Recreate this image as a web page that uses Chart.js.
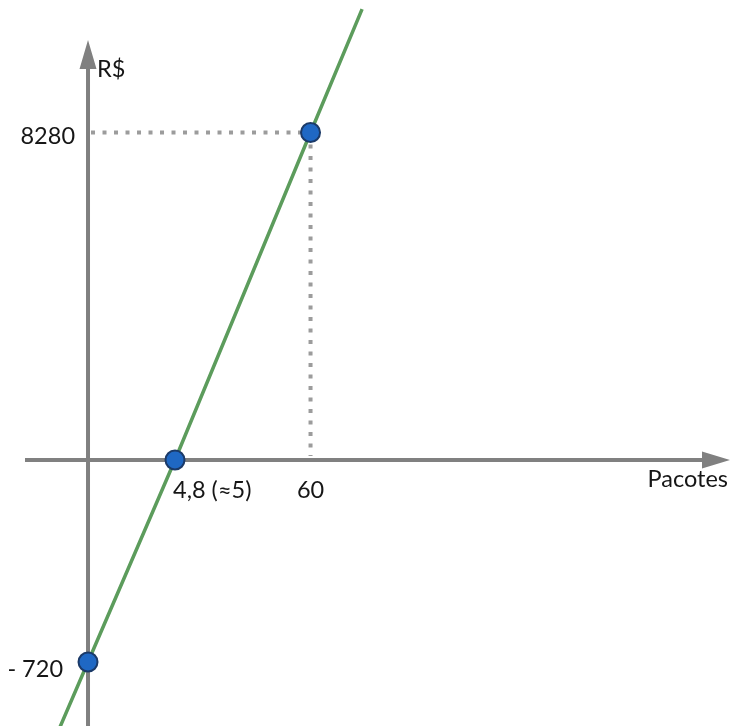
<!DOCTYPE html>
<html lang="pt-BR">
<head>
<meta charset="utf-8">
<title>Lucro x Pacotes</title>
<script src="https://cdn.jsdelivr.net/npm/chart.js@4/dist/chart.umd.min.js"></script>
<style>
  html, body { margin: 0; padding: 0; background: #fff; }
  #wrap { position: relative; width: 731px; height: 726px; }
</style>
</head>
<body>
<div id="wrap"><canvas id="c" width="731" height="726"></canvas></div>
<script>
// Marked points: packages (x) and profit in R$ (y)
const markX = [0, 4.8, 60];
const markY = [-720, 0, 8280];

// Profit line, running past the marked points out to the edges
const lineX = [-1.8, 0, 4.8, 60, 81];
const lineY = [-990, -720, 0, 8280, 11400];

// Axis labels
const xTickValues = [4.8, 60];
const xTickLabels = ['4,8 (≈5)', '60'];
const yTickValues = [8280, -720];
const yTickLabels = ['8280', '- 720'];
const xTitle = 'Pacotes';
const yTitle = 'R$';

// The axes are schematic: each marked value sits at a fixed fraction of the
// axis length, and values in between are placed piecewise-linearly.
const axisLayout = {
  x: { knots: markX, at: [0.1204, 0.2394, 0.4248] },
  y: { knots: markY, at: [0.0882, 0.3664, 0.8175] }
};

class SchematicScale extends Chart.LinearScale {
  getPixelForValue(value) {
    if (value === null || value === undefined || isNaN(value)) return NaN;
    const { knots: k, at: f } = axisLayout[this.axis];
    let i = 0;
    while (i < k.length - 2 && value > k[i + 1]) i++;
    const t = (value - k[i]) / (k[i + 1] - k[i]);
    return this.getPixelForDecimal(f[i] + t * (f[i + 1] - f[i]));
  }
  getValueForPixel(pixel) {
    const { knots: k, at: f } = axisLayout[this.axis];
    const d = this.getDecimalForPixel(pixel);
    let i = 0;
    while (i < f.length - 2 && d > f[i + 1]) i++;
    const t = (d - f[i]) / (f[i + 1] - f[i]);
    return k[i] + t * (k[i + 1] - k[i]);
  }
}
SchematicScale.id = 'schematic';
SchematicScale.defaults = Chart.LinearScale.defaults;
Chart.register(SchematicScale);

const FONT = '23.5px Lato, "Open Sans", sans-serif';
const TEXT = '#161616';
const AXIS = '#808080';

// Axes with arrowheads, dotted guides and all labels
const axesPlugin = {
  id: 'axesPlugin',
  beforeDatasetsDraw(chart) {
    const { ctx, scales: { x, y } } = chart;
    const x0 = x.getPixelForValue(0);
    const y0 = y.getPixelForValue(0);
    ctx.save();

    // dotted guides to (60, 8280)
    const gx = x.getPixelForValue(markX[2]);
    const gy = y.getPixelForValue(markY[2]);
    ctx.strokeStyle = '#9c9c9c';
    ctx.lineWidth = 4;
    ctx.lineCap = 'butt';
    ctx.setLineDash([4, 7.5]);
    ctx.beginPath();
    ctx.moveTo(x0 + 3, gy);
    ctx.lineTo(gx - 6, gy);
    ctx.moveTo(gx, gy + 12);
    ctx.lineTo(gx, y0 - 4);
    ctx.stroke();
    ctx.setLineDash([]);

    // axes
    ctx.strokeStyle = AXIS;
    ctx.fillStyle = AXIS;
    ctx.lineWidth = 4;
    ctx.beginPath();
    ctx.moveTo(25, y0);
    ctx.lineTo(704, y0);
    ctx.moveTo(x0, chart.height);
    ctx.lineTo(x0, 68);
    ctx.stroke();
    // arrowheads
    ctx.beginPath();
    ctx.moveTo(730, y0);
    ctx.lineTo(702, y0 - 8.5);
    ctx.lineTo(702, y0 + 8.5);
    ctx.closePath();
    ctx.moveTo(x0, 40);
    ctx.lineTo(x0 - 8.5, 69);
    ctx.lineTo(x0 + 8.5, 69);
    ctx.closePath();
    ctx.fill();

    // labels
    ctx.font = FONT;
    ctx.fillStyle = TEXT;
    ctx.textBaseline = 'alphabetic';
    ctx.textAlign = 'left';
    ctx.fillText(yTitle, x0 + 9, 77);
    ctx.textAlign = 'right';
    ctx.fillText(xTitle, 728, 487);

    ctx.textAlign = 'right';
    yTickValues.forEach((v, i) => {
      const py = y.getPixelForValue(v);
      if (v > 0) ctx.fillText(yTickLabels[i], x0 - 13, py + 12);
      else ctx.fillText(yTickLabels[i], x0 - 25, py + 15);
    });
    xTickValues.forEach((v, i) => {
      const px = x.getPixelForValue(v);
      if (i === 0) { ctx.textAlign = 'left'; ctx.fillText(xTickLabels[i], px - 2, y0 + 38); }
      else { ctx.textAlign = 'center'; ctx.fillText(xTickLabels[i], px, y0 + 38); }
    });
    ctx.restore();
  }
};

function draw() {
  new Chart(document.getElementById('c'), {
    type: 'scatter',
    data: {
      datasets: [
        {
          label: 'Pontos',
          data: markX.map((v, i) => ({ x: v, y: markY[i] })),
          pointRadius: 9.5,
          pointHoverRadius: 9.5,
          pointBackgroundColor: '#1f68c4',
          pointBorderColor: '#1b3a68',
          pointBorderWidth: 2,
          showLine: false
        },
        {
          label: 'Lucro',
          data: lineX.map((v, i) => ({ x: v, y: lineY[i] })),
          showLine: true,
          borderColor: '#5c9c5c',
          borderWidth: 3.5,
          pointRadius: 0,
          pointHoverRadius: 0,
          tension: 0
        }
      ]
    },
    options: {
      responsive: false,
      animation: false,
      layout: { padding: 0, autoPadding: false },
      scales: {
        x: { type: 'schematic', display: false, min: -5, max: 230 },
        y: { type: 'schematic', display: false, min: -1000, max: 11500 }
      },
      plugins: {
        legend: { display: false },
        tooltip: { enabled: false }
      }
    },
    plugins: [axesPlugin]
  });
}

if (document.fonts && document.fonts.load) {
  document.fonts.load(FONT).then(draw, draw);
} else {
  draw();
}
</script>
</body>
</html>
